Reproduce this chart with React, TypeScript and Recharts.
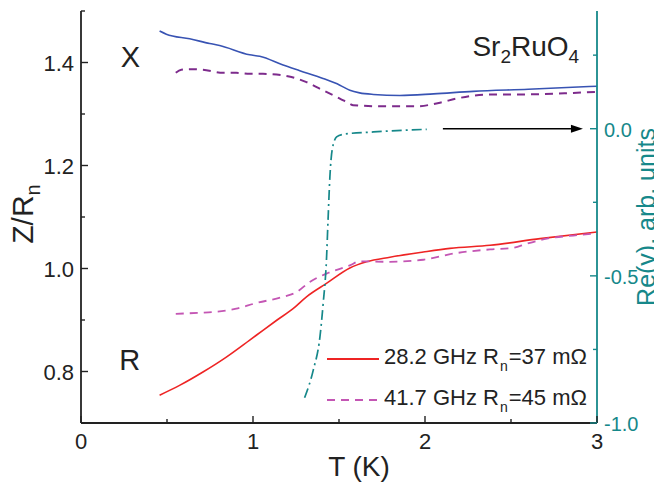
import React from 'react';
import { ComposedChart, Line, XAxis, YAxis, ReferenceLine, ReferenceDot } from 'recharts';

// X (reactance) curves, left axis
const tX28 = [0.457, 0.496, 0.632, 0.748, 0.806, 0.981, 1.039, 1.175, 1.272, 1.407, 1.505, 1.563, 1.62, 1.7, 1.854, 2.05, 2.28, 2.6, 3.0];
const zX28 = [1.461, 1.455, 1.446, 1.437, 1.433, 1.415, 1.412, 1.395, 1.384, 1.369, 1.356, 1.346, 1.341, 1.338, 1.336, 1.339, 1.344, 1.348, 1.354];

const tX41 = [0.551, 0.583, 0.632, 0.709, 0.826, 0.903, 0.981, 1.058, 1.175, 1.253, 1.311, 1.407, 1.505, 1.563, 1.582, 1.755, 1.951, 2.087, 2.184, 2.378, 2.572, 2.862, 3.0];
const zX41 = [1.380, 1.386, 1.387, 1.386, 1.380, 1.380, 1.378, 1.378, 1.375, 1.369, 1.362, 1.346, 1.330, 1.320, 1.317, 1.315, 1.315, 1.322, 1.330, 1.338, 1.338, 1.341, 1.343];

// R (resistance) curves, left axis
const tR28 = [0.457, 0.573, 0.709, 0.845, 0.981, 1.058, 1.136, 1.233, 1.311, 1.427, 1.563, 1.66, 1.796, 1.99, 2.145, 2.378, 2.669, 3.0];
const zR28 = [0.754, 0.773, 0.799, 0.828, 0.861, 0.880, 0.899, 0.922, 0.945, 0.971, 1.001, 1.013, 1.022, 1.032, 1.039, 1.045, 1.058, 1.071];

const tR41 = [0.551, 0.69, 0.787, 0.903, 1.02, 1.175, 1.253, 1.33, 1.427, 1.563, 1.62, 1.796, 1.99, 2.184, 2.378, 2.513, 2.591, 2.708, 2.862, 3.0];
const zR41 = [0.912, 0.914, 0.916, 0.922, 0.933, 0.945, 0.954, 0.974, 0.990, 1.006, 1.014, 1.013, 1.017, 1.030, 1.037, 1.040, 1.048, 1.058, 1.064, 1.068];

// Re(gamma), right axis
const tG = [1.30, 1.35, 1.389, 1.408, 1.427, 1.437, 1.447, 1.46, 1.486, 1.525, 1.70, 1.755, 2.01];
const vG = [-0.914, -0.821, -0.708, -0.594, -0.447, -0.300, -0.164, -0.073, -0.028, -0.019, -0.011, -0.009, -0.002];

const xTicks = [0, 0.5, 1, 1.5, 2, 2.5, 3];
const leftTicks = [0.7, 0.8, 0.9, 1.0, 1.1, 1.2, 1.3, 1.4, 1.5];
const leftMajor = [0.8, 1.0, 1.2, 1.4];
const rightTicks = [-1.0, -0.75, -0.5, -0.25, 0, 0.25];
const rightMajor = [-1.0, -0.5, 0];

const arrowFrom = 2.104;
const arrowTo = 2.86;

const INK = '#222';
const TEAL = '#16888a';
const FONT = '"Liberation Sans", Arial, sans-serif';

const pts = (t: number[], v: number[]) => t.map((T, i) => ({ T, v: v[i] }));

const isMajor = (v: number, list: number[]) => list.some((m) => Math.abs(m - v) < 1e-6);

const BottomTick = (p: any) => {
  const v = p.payload.value;
  const major = Number.isInteger(v);
  return (
    <g>
      <line x1={p.x} x2={p.x} y1={p.y} y2={p.y - (major ? 7 : 4)} stroke={INK} strokeWidth={1.4} />
      {major && (
        <text x={p.x} y={p.y + 26} textAnchor="middle" fontSize={22} fill={INK} fontFamily={FONT}>
          {v}
        </text>
      )}
    </g>
  );
};

const TopTick = (p: any) => {
  const v = p.payload.value;
  const major = Number.isInteger(v);
  return <line x1={p.x} x2={p.x} y1={p.y} y2={p.y + (major ? 7 : 4)} stroke={INK} strokeWidth={1.4} />;
};

const LeftTick = (p: any) => {
  const v = p.payload.value;
  const major = isMajor(v, leftMajor);
  return (
    <g>
      <line x1={p.x} x2={p.x + (major ? 7 : 4)} y1={p.y} y2={p.y} stroke={INK} strokeWidth={1.4} />
      {major && (
        <text x={p.x - 7} y={p.y + 8} textAnchor="end" fontSize={22} fill={INK} fontFamily={FONT}>
          {v.toFixed(1)}
        </text>
      )}
    </g>
  );
};

const RightTick = (p: any) => {
  const v = p.payload.value;
  const major = isMajor(v, rightMajor);
  return (
    <g>
      <line x1={p.x} x2={p.x - (major ? 7 : 4)} y1={p.y} y2={p.y} stroke={TEAL} strokeWidth={1.4} />
      {major && (
        <text x={p.x + 7} y={p.y + 8} textAnchor="start" fontSize={20} fill={TEAL} fontFamily={FONT}>
          {v.toFixed(1)}
        </text>
      )}
    </g>
  );
};

const legendRow = (color: string, dash: string | undefined, ghz: string, rn: string) => (
  <div style={{ display: 'flex', alignItems: 'center', height: 41 }}>
    <svg width={60} height={10}>
      <line x1={3} x2={55} y1={5} y2={5} stroke={color} strokeWidth={2} strokeDasharray={dash} />
    </svg>
    <span style={{ fontSize: 22, color: INK, fontFamily: FONT, whiteSpace: 'nowrap' }}>
      {ghz} GHz R<sub style={{ fontSize: 14, verticalAlign: -7, marginLeft: 1, marginRight: 1 }}>n</sub>={rn} mΩ
    </span>
  </div>
);

export default function App() {
  return (
    <div style={{ position: 'absolute', left: 0, top: 0, width: 654, height: 483, background: '#fff' }}>
      <ComposedChart width={654} height={483} margin={{ top: 11, right: 0, bottom: 0, left: 0 }}>
        <XAxis
          dataKey="T"
          type="number"
          domain={[0, 3]}
          ticks={xTicks}
          interval={0}
          height={60}
          tickSize={0}
          tickMargin={0}
          tickLine={false}
          tick={<BottomTick />}
          axisLine={{ stroke: INK, strokeWidth: 1.8 }}
          allowDataOverflow
          label={{
            content: (lp: any) => {
              const vb = lp.viewBox;
              return (
                <text x={vb.x + vb.width / 2 + 20} y={vb.y + 53} textAnchor="middle" fontSize={28} fill={INK} fontFamily={FONT}>
                  T (K)
                </text>
              );
            },
          }}
        />
        <XAxis
          xAxisId="top"
          orientation="top"
          type="number"
          domain={[0, 3]}
          ticks={xTicks}
          interval={0}
          height={0}
          tickSize={0}
          tickMargin={0}
          tickLine={false}
          tick={<TopTick />}
          axisLine={{ stroke: INK, strokeWidth: 1.8 }}
        />
        <YAxis
          yAxisId="left"
          type="number"
          domain={[0.7, 1.5]}
          ticks={leftTicks}
          interval={0}
          width={81}
          tickSize={0}
          tickMargin={0}
          tickLine={false}
          tick={<LeftTick />}
          axisLine={{ stroke: INK, strokeWidth: 1.8 }}
          allowDataOverflow
          label={{
            content: (lp: any) => {
              const vb = lp.viewBox;
              const cy = vb.y + vb.height / 2 - 3;
              return (
                <text transform={`translate(${vb.x + 33}, ${cy}) rotate(-90)`} textAnchor="middle" fontSize={30} fill={INK} fontFamily={FONT}>
                  Z/R<tspan fontSize={20} dy={7}>n</tspan>
                </text>
              );
            },
          }}
        />
        <YAxis
          yAxisId="right"
          orientation="right"
          type="number"
          domain={[-1.0, 0.4]}
          ticks={rightTicks}
          interval={0}
          width={57}
          tickSize={0}
          tickMargin={0}
          tickLine={false}
          tick={<RightTick />}
          axisLine={{ stroke: TEAL, strokeWidth: 1.8 }}
          allowDataOverflow
          label={{
            content: (lp: any) => {
              const vb = lp.viewBox;
              const cy = vb.y + vb.height / 2;
              return (
                <text transform={`translate(${vb.x + 58}, ${cy}) rotate(-90)`} textAnchor="middle" fontSize={25} fill={TEAL} fontFamily={FONT}>
                  Re(γ), arb. units
                </text>
              );
            },
          }}
        />

        <Line yAxisId="left" data={pts(tX28, zX28)} dataKey="v" type="monotone" stroke="#3853b3" strokeWidth={1.6} dot={false} isAnimationActive={false} />
        <Line yAxisId="left" data={pts(tX41, zX41)} dataKey="v" type="monotone" stroke="#7d2b8c" strokeWidth={2} strokeDasharray="8 6" dot={false} isAnimationActive={false} />
        <Line yAxisId="left" data={pts(tR28, zR28)} dataKey="v" type="monotone" stroke="#ee2424" strokeWidth={1.6} dot={false} isAnimationActive={false} />
        <Line yAxisId="left" data={pts(tR41, zR41)} dataKey="v" type="monotone" stroke="#c456b4" strokeWidth={1.8} strokeDasharray="8 6" dot={false} isAnimationActive={false} />
        <Line yAxisId="right" data={pts(tG, vG)} dataKey="v" type="monotone" stroke={TEAL} strokeWidth={1.7} strokeDasharray="10 4 2 4" dot={false} isAnimationActive={false} />

        <ReferenceLine
          yAxisId="right"
          segment={[{ x: arrowFrom, y: 0 }, { x: arrowTo, y: 0 }]}
          stroke="#000"
          strokeWidth={1.6}
        />
        <ReferenceDot
          yAxisId="right"
          x={arrowTo}
          y={0}
          shape={(p: any) => (
            <path d={`M${p.cx - 2},${p.cy - 4} L${p.cx + 10},${p.cy} L${p.cx - 2},${p.cy + 4} Z`} fill="#000" />
          )}
        />
        <ReferenceDot
          yAxisId="left"
          x={0.288}
          y={1.41}
          shape={(p: any) => (
            <text x={p.cx} y={p.cy + 10} textAnchor="middle" fontSize={29} fill={INK} fontFamily={FONT}>X</text>
          )}
        />
        <ReferenceDot
          yAxisId="left"
          x={0.283}
          y={0.822}
          shape={(p: any) => (
            <text x={p.cx} y={p.cy + 10} textAnchor="middle" fontSize={29} fill={INK} fontFamily={FONT}>R</text>
          )}
        />
        <ReferenceDot
          yAxisId="left"
          x={2.896}
          y={1.412}
          shape={(p: any) => (
            <text x={p.cx} y={p.cy} textAnchor="end" fontSize={28} fill={INK} fontFamily={FONT}>
              Sr<tspan fontSize={19} dy={7}>2</tspan>
              <tspan dy={-7}>RuO</tspan>
              <tspan fontSize={19} dy={7}>4</tspan>
            </text>
          )}
        />
      </ComposedChart>
      <div style={{ position: 'absolute', left: 324, top: 338 }}>
        {legendRow('#ee2424', undefined, '28.2', '37')}
        {legendRow('#c456b4', '8 6', '41.7', '45')}
      </div>
    </div>
  );
}
